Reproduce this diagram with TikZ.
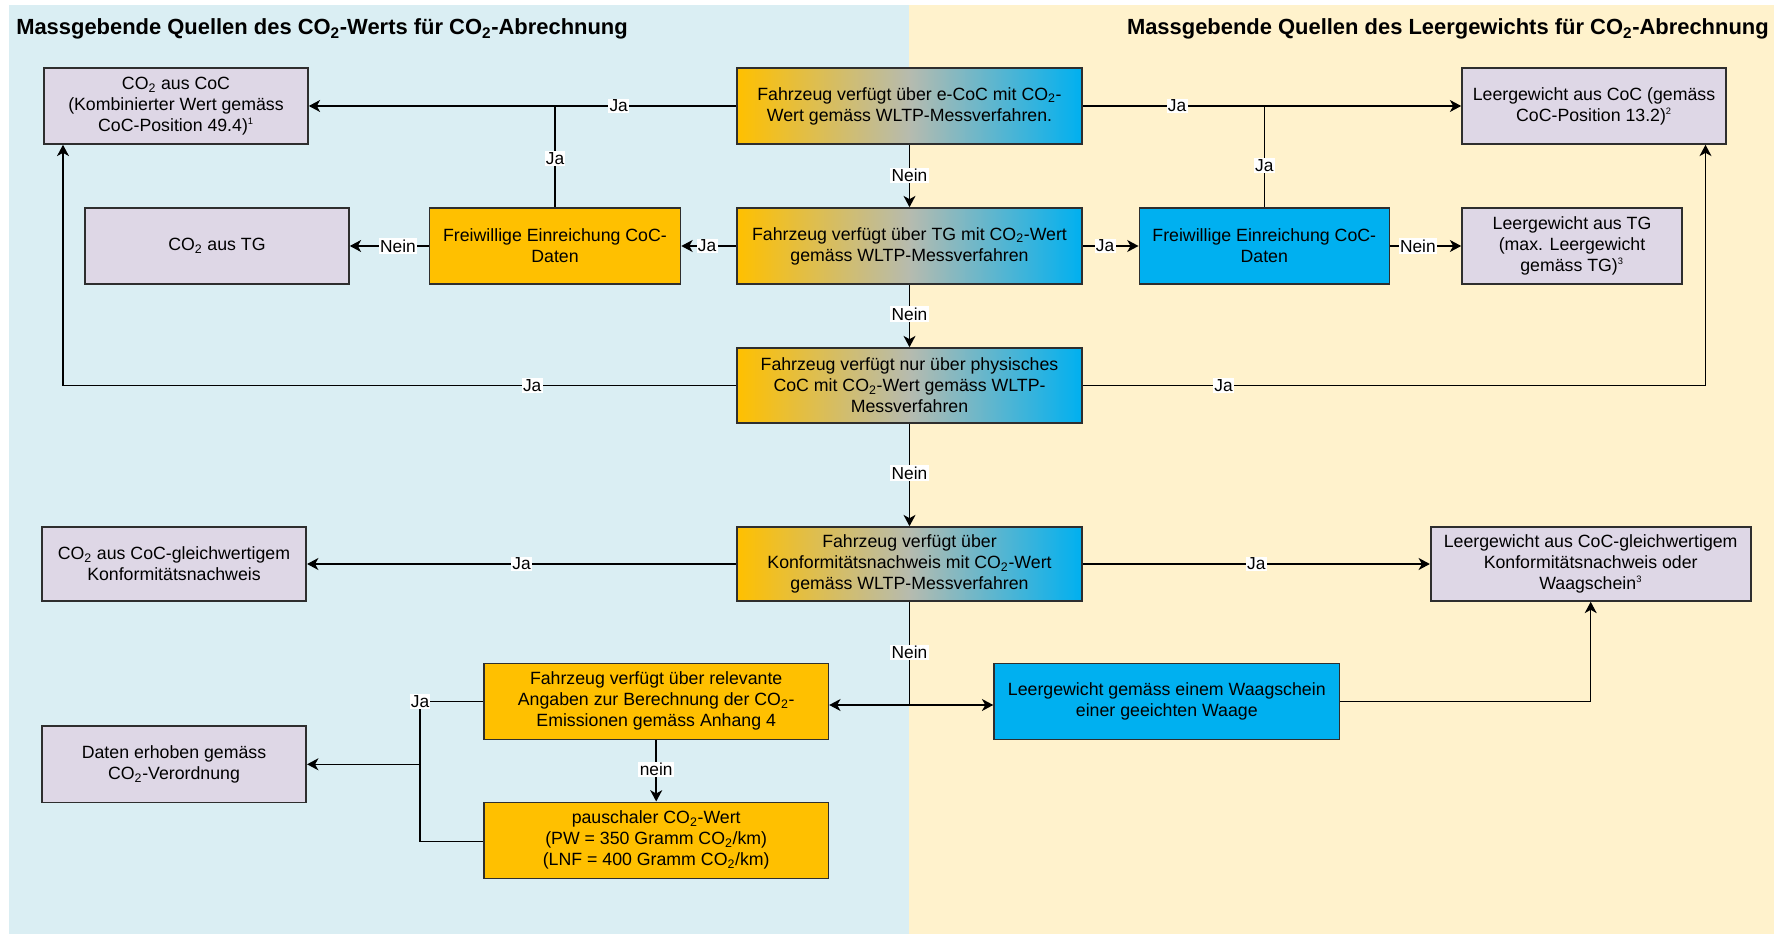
\documentclass[tikz,border=0pt]{standalone}
\usepackage{fontspec}
\setmainfont{Liberation Sans}
\usetikzlibrary{arrows.meta}
\definecolor{bgblue}{HTML}{DAEEF3}
\definecolor{bgyellow}{HTML}{FFF2CC}
\definecolor{lav}{HTML}{DED7E6}
\definecolor{orng}{HTML}{FFC000}
\definecolor{sky}{HTML}{00B0F0}
\definecolor{gmid}{HTML}{B6BBAF}
\definecolor{edgegray}{HTML}{2E2E2E}
\newcommand\cotwo{CO\textsubscript{2}}
\newcommand\fnmark[1]{\textsuperscript{\fontsize{7pt}{7pt}\selectfont #1}}
\begin{document}
\begin{tikzpicture}[x=0.75pt,y=-0.75pt,
  font=\fontsize{13.3pt}{15.8pt}\selectfont,
  basebox/.style={draw=edgegray, line width=1.2pt, align=center, inner sep=0pt, minimum height=57pt},
  gbox/.style={basebox, fill=lav},
  obox/.style={basebox, fill=orng},
  bbox/.style={basebox, fill=sky},
  gradbox/.style={basebox, left color=orng, right color=sky, middle color=gmid},
  conn/.style={draw=black, line width=1.1pt},
  arr/.style={conn, -{Stealth[length=8.5pt,width=9pt,inset=2.5pt]}},
  lbl/.style={fill=white, inner sep=1pt, font=\fontsize{13pt}{15pt}\selectfont},
  titlefont/.style={font=\bfseries\fontsize{16.45pt}{20pt}\selectfont, inner sep=0pt}
]
\useasboundingbox (0,0) rectangle (1774,934);
\fill[bgblue] (9,5) rectangle (909.3,934);
\fill[bgyellow] (909.3,5) rectangle (1774,934);

% titles
\node[titlefont, anchor=west] (t1) at (16,29) {Massgebende Quellen des \cotwo-Werts für \cotwo-Abrechnung};
\node[titlefont, anchor=east] (t2) at (1769,29) {Massgebende Quellen des Leergewichts für \cotwo-Abrechnung};

% central column
\node[gradbox, minimum width=258.75pt] (e1) at (909.5,106) {Fahrzeug verfügt über e-CoC mit \cotwo-\\Wert gemäss WLTP-Messverfahren.};
\node[gradbox, minimum width=258.75pt] (tg) at (909.5,246) {Fahrzeug verfügt über TG mit \cotwo-Wert\\gemäss WLTP-Messverfahren};
\node[gradbox, minimum width=258.75pt, minimum height=56.25pt] (phys) at (909.5,385.5) {Fahrzeug verfügt nur über physisches\\CoC mit \cotwo-Wert gemäss WLTP-\\Messverfahren};
\node[gradbox, minimum width=258.75pt, minimum height=55.5pt] (konf) at (909.5,564) {Fahrzeug verfügt über\\Konformitätsnachweis mit \cotwo-Wert\\gemäss WLTP-Messverfahren};

% left side
\node[gbox, minimum width=198pt] (coc) at (176,106) {\cotwo{} aus CoC\\(Kombinierter Wert gemäss\\CoC-Position 49.4)\fnmark{1}};
\node[gbox, minimum width=198pt] (co2tg) at (217,246) {\cotwo{} aus TG};
\node[obox, minimum width=188.25pt] (frL) at (555,246) {Freiwillige Einreichung CoC-\\Daten};
\node[gbox, minimum width=198.4pt, minimum height=55.5pt] (co2gl) at (174,564) {\cotwo{} aus CoC-gleichwertigem\\Konformitätsnachweis};
\node[obox, minimum width=258.3pt] (rel) at (656.2,701.3) {Fahrzeug verfügt über relevante\\Angaben zur Berechnung der \cotwo-\\Emissionen gemäss Anhang 4};
\node[obox, minimum width=258.3pt] (pausch) at (656.2,840.3) {pauschaler \cotwo-Wert\\(PW = 350 Gramm \cotwo/km)\\(LNF = 400 Gramm \cotwo/km)};
\node[gbox, minimum width=198.4pt, minimum height=57.5pt] (daten) at (174,764.3) {Daten erhoben gemäss\\\cotwo-Verordnung};

% right side
\node[gbox, minimum width=198pt] (leercoc) at (1594,106) {Leergewicht aus CoC (gemäss\\CoC-Position 13.2)\fnmark{2}};
\node[bbox, minimum width=187.5pt] (frR) at (1264.3,246) {Freiwillige Einreichung CoC-\\Daten};
\node[gbox, minimum width=165pt] (leertg) at (1572,246) {Leergewicht aus TG\\(max. Leergewicht\\gemäss TG)\fnmark{3}};
\node[gbox, minimum width=240pt, minimum height=55.5pt] (leergl) at (1590.7,564) {Leergewicht aus CoC-gleichwertigem\\Konformitätsnachweis oder\\Waagschein\fnmark{3}};
\node[bbox, minimum width=259.1pt] (waag) at (1166.8,701.3) {Leergewicht gemäss einem Waagschein\\einer geeichten Waage};

% helper coordinates
\coordinate (jL) at (555,106);
\coordinate (jR) at (1264.3,106);
\coordinate (xL) at (63,0);
\coordinate (xR) at (1705.5,0);
\coordinate (J) at (909.5,705);
\coordinate (K) at (420,701.3);
\coordinate (KB) at (420,841.7);

% connectors
\draw[arr] (e1.west) -- node[lbl,pos=0.275]{Ja} (coc.east);
\draw[conn] (frL.north) -- node[lbl,pos=0.48]{Ja} (jL);
\draw[arr] (e1.east) -- node[lbl,pos=0.249]{Ja} (leercoc.west);
\draw[conn] (frR.north) -- node[lbl,pos=0.415]{Ja} (jR);
\draw[arr] (e1.south) -- node[lbl,pos=0.495]{Nein} (tg.north);
\draw[arr] (tg.west) -- node[lbl,pos=0.53]{Ja} (frL.east);
\draw[arr] (frL.west) -- node[lbl,pos=0.39]{Nein} (co2tg.east);
\draw[arr] (tg.east) -- node[lbl,pos=0.40]{Ja} (frR.west);
\draw[arr] (frR.east) -- node[lbl,pos=0.39]{Nein} (leertg.west);
\draw[arr] (tg.south) -- node[lbl,pos=0.47]{Nein} (phys.north);
\draw[arr] (phys.west) -- node[lbl,pos=0.303]{Ja} (phys.west -| xL) -- (coc.south -| xL);
\draw[arr] (phys.east) -- node[lbl,pos=0.226]{Ja} (phys.east -| xR) -- (leercoc.south -| xR);
\draw[arr] (phys.south) -- node[lbl,pos=0.48]{Nein} (konf.north);
\draw[arr] (konf.west) -- node[lbl,pos=0.5]{Ja} (co2gl.east);
\draw[arr] (konf.east) -- node[lbl,pos=0.5]{Ja} (leergl.west);
\draw[conn] (konf.south) -- node[lbl,pos=0.49]{Nein} (J);
\draw[arr] (J) -- (rel.east |- J);
\draw[arr] (J) -- (waag.west |- J);
\draw[arr] (waag.east) -| (leergl.south);
\draw[arr] (rel.south) -- node[lbl,pos=0.476]{nein} (pausch.north);
\draw[conn] (rel.west) -- (K) -- (KB) -- (KB -| pausch.west);
\draw[arr] (K |- daten.east) -- (daten.east);
\node[lbl] (jaK) at (K) {Ja};
\end{tikzpicture}
\end{document}
